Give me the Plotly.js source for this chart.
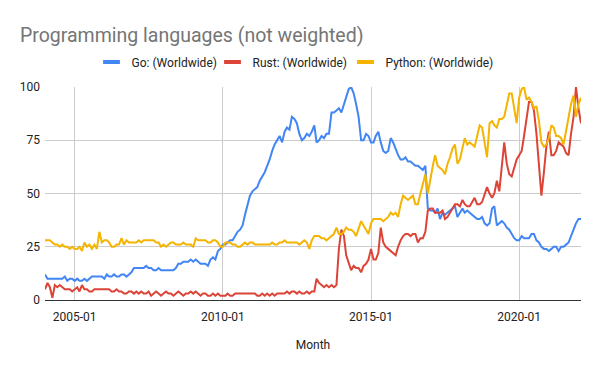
<!DOCTYPE html>
<html><head><meta charset="utf-8">
<script src="https://cdn.plot.ly/plotly-3.0.1.min.js"></script>
<style>html,body{margin:0;padding:0;background:#fff}#chart{width:600px;height:371px}</style>
</head><body><div id="chart"></div>
<script>
// Monthly values, starting 2004-01 (one row per year)
const startYear = 2004;
const goValues = [
  12,10,10,10,10,10,10,10,11,9,10,10,
  9,10,9,9,10,9,10,11,11,11,11,11,
  10,12,11,11,12,11,11,12,12,11,12,13,
  15,15,15,15,15,16,15,15,14,14,15,14,
  14,14,14,14,14,15,17,17,18,18,18,19,
  18,19,18,17,17,17,16,19,20,19,23,24,
  26,26,27,28,28,30,32,33,35,40,45,49,
  51,52,53,56,58,60,63,66,70,73,75,77,
  74,79,81,80,86,85,83,78,75,76,78,77,
  79,82,74,75,77,76,78,78,88,88,89,90,
  88,92,96,99,100,97,92,86,75,75,78,77,
  74,74,77,79,74,70,69,70,76,74,71,68,
  66,66,67,65,65,64,63,63,62,61,63,43,
  42,42,41,43,38,41,40,41,42,43,44,39,
  41,43,41,42,41,40,39,38,38,39,36,35,
  36,43,44,35,36,37,36,34,33,31,29,28,
  28,30,29,29,29,31,31,28,27,25,24,24,
  23,24,25,25,23,25,25,26,27,30,33,36,
  38,38
];
const rustValues = [
  5,8,6,1,7,6,7,6,5,5,5,4,
  5,6,4,7,5,5,4,4,5,5,5,5,
  5,5,5,4,4,5,4,4,3,3,4,4,
  3,4,3,4,3,3,4,2,3,4,3,2,
  3,4,3,3,2,3,4,3,2,3,3,4,
  3,4,3,2,3,3,2,2,3,2,3,2,
  2,2,3,2,2,3,3,3,3,3,3,3,
  3,3,2,2,3,2,3,2,3,2,3,3,
  3,3,4,3,4,4,3,4,3,3,4,3,
  4,4,10,8,7,6,7,6,7,6,7,24,
  33,30,21,17,14,16,15,15,13,16,17,19,
  24,19,19,22,34,27,25,24,23,22,21,25,
  28,30,31,31,30,31,31,27,29,29,32,42,
  43,43,41,41,41,42,38,39,41,43,45,45,
  44,47,45,44,44,46,48,45,45,46,50,53,
  50,48,50,56,51,62,74,64,59,58,62,66,
  68,70,77,85,93,93,89,78,64,49,60,72,
  79,68,68,70,74,73,72,69,68,78,86,100,
  90,83
];
const pythonValues = [
  28,28,28,27,26,26,25,26,25,25,24,25,
  24,24,25,23,27,25,26,24,26,24,32,27,
  28,28,27,25,25,26,26,29,26,28,27,27,
  27,27,28,27,28,28,28,28,28,27,27,25,
  26,25,26,27,27,26,26,26,27,26,26,26,
  25,29,28,28,28,28,27,27,28,28,27,25,
  25,27,27,27,26,26,25,25,26,27,26,27,
  27,26,26,26,26,26,26,26,27,26,26,27,
  27,28,27,27,27,27,27,26,27,28,27,24,
  28,30,30,30,29,29,28,29,30,31,34,31,
  31,32,34,33,33,32,30,34,37,35,33,31,
  36,38,38,38,38,37,38,39,41,40,41,39,
  45,49,48,47,48,49,45,45,50,55,59,50,
  57,63,68,63,62,61,59,64,67,71,73,64,
  66,71,76,73,74,73,72,77,82,81,74,67,
  83,84,82,81,85,85,86,92,97,97,90,83,
  95,99,100,94,95,93,90,91,84,74,72,73,
  76,82,81,77,77,76,73,80,86,92,96,86,
  92,95
];
const seriesNames = ['Go: (Worldwide)', 'Rust: (Worldwide)', 'Python: (Worldwide)'];
const seriesColors = ['#4285F4', '#DB4437', '#F4B400'];
const xTickVals = ['2005-01-01', '2010-01-01', '2015-01-01', '2020-01-01'];
const xTickText = ['2005-01', '2010-01', '2015-01', '2020-01'];
const yTickVals = [0, 25, 50, 75, 100];
const legendEntryWidths = [76, 88, 110];

const months = goValues.map((_, i) => {
  const y = startYear + Math.floor(i / 12);
  const m = (i % 12) + 1;
  return y + '-' + String(m).padStart(2, '0') + '-01';
});

const allValues = [goValues, rustValues, pythonValues];
const traces = [];
allValues.forEach((vals, k) => {
  traces.push({
    type: 'scatter', mode: 'lines', x: months, y: vals,
    name: seriesNames[k], legendgroup: 'g' + k, showlegend: false,
    line: {color: seriesColors[k], width: 2}
  });
});
allValues.forEach((vals, k) => {
  traces.push({
    type: 'scatter', mode: 'markers', x: [null], y: [null],
    name: seriesNames[k], legendgroup: 'g' + k, showlegend: true,
    legendwidth: legendEntryWidths[k],
    marker: {symbol: 'line-ew', size: 12, color: seriesColors[k], line: {width: 4, color: seriesColors[k]}}
  });
});

const layout = {
  width: 600, height: 371,
  margin: {l: 45, r: 19, t: 87, b: 71},
  paper_bgcolor: '#ffffff', plot_bgcolor: '#ffffff',
  font: {family: 'Roboto, Arial, sans-serif', size: 12, color: '#222222'},
  title: {text: 'Programming languages (not weighted)', font: {size: 19.5, color: '#757575'},
          x: 20 / 600, xanchor: 'left', xref: 'container', y: 1 - 35 / 371, yanchor: 'middle', yref: 'container'},
  showlegend: true,
  legend: {orientation: 'h', x: 296 / 600, xanchor: 'center', xref: 'container', y: 1 - 62 / 371, yanchor: 'middle', yref: 'container',
           font: {size: 12, color: '#222222'}, itemwidth: 30, traceorder: 'normal', bgcolor: 'rgba(0,0,0,0)'},
  xaxis: {type: 'date', range: [months[0], months[months.length - 1]], tickmode: 'array', tickvals: xTickVals, ticktext: xTickText,
          showgrid: true, gridcolor: '#cccccc', gridwidth: 1, showline: true, linecolor: '#333333', linewidth: 1, ticks: '',
          zeroline: false, tickfont: {size: 12, color: '#222222'}, ticklabelstandoff: 6,
          title: {text: 'Month', font: {size: 12, color: '#222222'}, standoff: 17}},
  yaxis: {range: [0, 100], tickmode: 'array', tickvals: yTickVals, showgrid: true, gridcolor: '#cccccc', gridwidth: 1,
          zeroline: false, showline: false, ticks: '', tickfont: {size: 12, color: '#222222'}, ticklabelstandoff: 4}
};

Plotly.newPlot('chart', traces, layout, {displayModeBar: false, staticPlot: true});
</script>
</body></html>
